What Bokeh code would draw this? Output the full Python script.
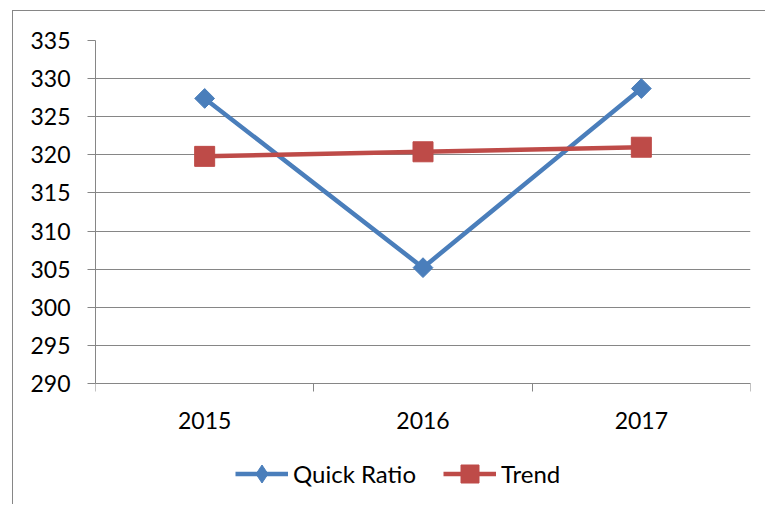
from bokeh.plotting import figure
from bokeh.models import FixedTicker, Legend, LegendItem, Range1d, LinearAxis
from bokeh.embed import file_html
from bokeh.resources import INLINE
import numpy as np

# ---- data ----
years = ["2015", "2016", "2017"]
quick_ratio = [327.4, 305.2, 328.7]
trend = [319.8, 320.4, 321.0]
y_ticks = [290, 295, 300, 305, 310, 315, 320, 325, 330, 335]

BLUE = "#4A7EBB"
RED = "#BE4B48"
GRAY = "#868686"
FONT = "Lato"

x_pos = [i + 0.5 for i in range(len(years))]
x_bounds = [i for i in range(len(years) + 1)]

# frame extends below the value axis so the legend can sit inside it
Y_BOTTOM = 274.0

p = figure(width=753, height=494, output_backend="svg", toolbar_location=None,
           x_axis_location=None,
           x_range=Range1d(0, len(years)), y_range=Range1d(Y_BOTTOM, y_ticks[-1]),
           min_border_left=82, min_border_right=16, min_border_top=29, min_border_bottom=0)
p.styles = {"margin-left": "12px", "margin-top": "10px",
            "border-left": "1px solid #868686", "border-top": "1px solid #868686"}
p.outline_line_color = None
p.background_fill_color = "white"
p.border_fill_color = "white"

# y axis
p.yaxis.ticker = FixedTicker(ticks=y_ticks)
p.yaxis.bounds = (y_ticks[0], y_ticks[-1])
p.yaxis.axis_line_color = GRAY
p.yaxis.major_tick_line_color = GRAY
p.yaxis.major_tick_out = 8
p.yaxis.major_tick_in = 0
p.yaxis.minor_tick_line_color = None
p.yaxis.major_label_standoff = 17
p.yaxis.major_label_text_font = FONT
p.yaxis.major_label_text_font_size = "23px"
p.yaxis.major_label_text_color = "black"

# x axis at y = 290: labels at centers, ticks at boundaries
xaxis = LinearAxis(fixed_location=y_ticks[0],
                   ticker=FixedTicker(ticks=x_pos, minor_ticks=x_bounds),
                   major_label_overrides={x: y for x, y in zip(x_pos, years)})
xaxis.axis_line_color = GRAY
xaxis.major_tick_line_color = None
xaxis.major_tick_out = 0
xaxis.major_tick_in = 0
xaxis.minor_tick_line_color = GRAY
xaxis.minor_tick_out = 8
xaxis.minor_tick_in = 0
xaxis.major_label_standoff = 20
xaxis.major_label_text_font = FONT
xaxis.major_label_text_font_size = "23px"
xaxis.major_label_text_color = "black"
p.add_layout(xaxis, "below")

p.xgrid.grid_line_color = None
p.ygrid.ticker = FixedTicker(ticks=y_ticks)
p.ygrid.grid_line_color = GRAY
p.ygrid.grid_line_width = 1

l1 = p.line(x_pos, quick_ratio, line_color=BLUE, line_width=4.5, line_join="round")
m1 = p.scatter(x_pos, quick_ratio, marker="square", angle=np.pi / 4, size=14,
               fill_color=BLUE, line_color=BLUE)
# diamond glyph used for the legend key (the rotated square is not rotated in legends)
m1_key = p.scatter(x_pos, quick_ratio, marker="diamond", size=20,
                   fill_color=BLUE, line_color=BLUE, visible=False)
l2 = p.line(x_pos, trend, line_color=RED, line_width=4.5, line_join="round")
m2 = p.scatter(x_pos, trend, marker="square", size=20, fill_color=RED, line_color=RED)

legend = Legend(items=[LegendItem(label="Quick Ratio", renderers=[l1, m1_key]),
                       LegendItem(label="Trend", renderers=[l2, m2])],
                orientation="horizontal", location=(140, 9.5),
                glyph_width=53, glyph_height=45, label_standoff=5, spacing=27,
                padding=0, margin=0, border_line_alpha=0, background_fill_alpha=0,
                label_text_font=FONT, label_text_font_size="24px", label_text_color="black")
p.add_layout(legend)

open("out.html", "w").write(file_html(p, INLINE))
